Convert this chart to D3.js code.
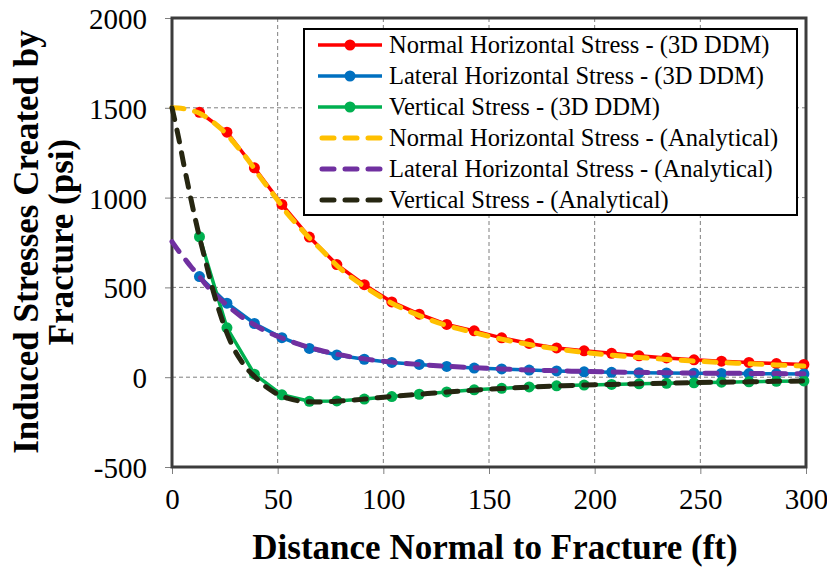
<!DOCTYPE html>
<html>
<head>
<meta charset="utf-8">
<script src="https://cdn.jsdelivr.net/npm/d3@7"></script>
<style>
  body { margin: 0; background: #fff; }
  svg text { font-family: "Liberation Serif", "DejaVu Serif", Times, serif; fill: #000; }
</style>
</head>
<body>
<div id="theChart"></div>
<script>
// distances (ft) of the 3D DDM points
var distDDM = [13, 26, 39, 52, 65, 78, 91, 104, 117, 130, 143, 156, 169, 182, 195, 208, 221, 234, 247, 260, 273, 286, 299];
var normalDDM = [1475, 1364, 1166, 962, 780, 627, 515, 419, 351, 294, 258, 219, 188, 163, 147, 133, 119, 107, 97, 89, 82, 76, 71];
var lateralDDM = [560, 412, 299, 220, 160, 124, 100, 82, 71, 60, 51, 46, 40, 35, 30, 27, 25, 24, 22, 21, 20, 19, 18];
var verticalDDM = [782, 275, 17, -98, -134, -132, -122, -108, -95, -82, -70, -62, -54, -48, -44, -40, -37, -34, -31, -28, -26, -23, -21];

// analytical curves
var distAnalytical = [0, 3, 6, 9, 13, 16, 19.5, 23, 26, 29, 32.5, 36, 39, 42, 45.5, 50, 55, 60, 65, 70, 78, 91, 104, 117, 130, 143, 156, 169, 182, 195, 208, 221, 234, 247, 260, 273, 286, 299];
var normalAnalytical = [1500, 1499, 1494, 1486, 1470, 1450, 1420, 1385, 1352, 1310, 1260, 1210, 1160, 1110, 1055, 985, 905, 840, 775, 718, 622, 505, 412, 343, 288, 248, 212, 182, 157, 138, 123, 110, 99, 90, 82, 75, 68, 62];
var lateralAnalytical = [755, 705, 660, 615, 560, 515, 470, 432, 402, 372, 340, 313, 292, 271, 250, 228, 205, 184, 166, 150, 128, 102, 84, 71, 61, 53, 46, 40, 36, 32, 29, 27, 25, 23, 22, 21, 20, 19];
var verticalAnalytical = [1500, 1340, 1160, 990, 780, 640, 480, 345, 245, 165, 95, 40, 5, -30, -62, -95, -118, -132, -137, -138, -134, -122, -107, -95, -83, -72, -63, -55, -49, -44, -40, -36, -33, -30, -28, -26, -23, -21];

var xTicks = [0, 50, 100, 150, 200, 250, 300];
var yTicks = [-500, 0, 500, 1000, 1500, 2000];

var seriesNames = [
  "Normal Horizontal Stress - (3D DDM)",
  "Lateral Horizontal Stress - (3D DDM)",
  "Vertical Stress - (3D DDM)",
  "Normal Horizontal Stress - (Analytical)",
  "Lateral Horizontal Stress - (Analytical)",
  "Vertical Stress - (Analytical)"
];

var serif = '"Liberation Serif", "DejaVu Serif", Times, serif';

function drawChart(){
  var W = 827, H = 569;
  var left = 172, right = 806, top = 18, bottom = 467;
  var colors = ["#ff0000", "#0070c0", "#00b050", "#ffc000", "#7030a0", "#262611"];

  var svg = d3.select("#theChart")
    .append("svg")
    .attr("width", W)
    .attr("height", H)
    .style("font-family", serif);

  var x = d3.scaleLinear().domain([0, 300]).range([left, right]);
  var y = d3.scaleLinear().domain([-500, 2000]).range([bottom, top]);

  //grid lines
  svg.append("g").selectAll("line")
    .data(xTicks.slice(1, -1))
    .enter().append("line")
    .attr("x1", function(d){ return x(d); })
    .attr("x2", function(d){ return x(d); })
    .attr("y1", top).attr("y2", bottom)
    .attr("stroke", "#7f7f7f").attr("stroke-width", 1).attr("stroke-dasharray", "4,3");
  svg.append("g").selectAll("line")
    .data(yTicks.slice(1, -1))
    .enter().append("line")
    .attr("y1", function(d){ return y(d); })
    .attr("y2", function(d){ return y(d); })
    .attr("x1", left).attr("x2", right)
    .attr("stroke", "#7f7f7f").attr("stroke-width", 1).attr("stroke-dasharray", "4,3");

  //axes
  var xAxis = svg.append("g")
    .attr("transform", "translate(0," + bottom + ")")
    .call(d3.axisBottom(x).tickValues(xTicks).tickFormat(function(d){ return String(d); }).tickSize(7).tickPadding(14));
  var yAxis = svg.append("g")
    .attr("transform", "translate(" + left + ",0)")
    .call(d3.axisLeft(y).tickValues(yTicks).tickFormat(function(d){ return String(d); }).tickSize(7).tickPadding(18));
  [xAxis, yAxis].forEach(function(a){
    a.attr("font-family", serif);
    a.select(".domain").remove();
    a.selectAll(".tick line").attr("stroke", "#7f7f7f");
    a.selectAll(".tick text")
      .style("font-family", serif)
      .style("font-size", "29px")
      .attr("fill", "#000");
  });
  yAxis.selectAll(".tick text").attr("dy", "0.36em");

  //plot frame
  svg.append("rect")
    .attr("x", left).attr("y", top)
    .attr("width", right - left).attr("height", bottom - top)
    .attr("fill", "none").attr("stroke", "#3c3c3c").attr("stroke-width", 3);

  //3D DDM series
  var lineDDM = d3.line()
    .x(function(d, i){ return x(distDDM[i]); })
    .y(function(d){ return y(d); });
  [normalDDM, lateralDDM, verticalDDM].forEach(function(vals, k){
    var g = svg.append("g");
    g.append("path")
      .attr("d", lineDDM(vals))
      .attr("fill", "none")
      .attr("stroke", colors[k])
      .attr("stroke-width", 3.5);
    g.selectAll("circle")
      .data(vals)
      .enter().append("circle")
      .attr("cx", function(d, i){ return x(distDDM[i]); })
      .attr("cy", function(d){ return y(d); })
      .attr("r", 5.5)
      .attr("fill", colors[k]);
  });

  //analytical series
  var lineAn = d3.line()
    .x(function(d, i){ return x(distAnalytical[i]); })
    .y(function(d){ return y(d); })
    .curve(d3.curveMonotoneX);
  [normalAnalytical, lateralAnalytical, verticalAnalytical].forEach(function(vals, k){
    svg.append("path")
      .attr("d", lineAn(vals))
      .attr("fill", "none")
      .attr("stroke", colors[k + 3])
      .attr("stroke-width", 5)
      .attr("stroke-linecap", "round")
      .attr("stroke-dasharray", "12,11");
  });

  //legend
  var lg = svg.append("g");
  lg.append("rect")
    .attr("x", 304).attr("y", 29)
    .attr("width", 493).attr("height", 186)
    .attr("fill", "#fff").attr("stroke", "#000").attr("stroke-width", 2);
  var rows = lg.selectAll("g.row")
    .data(seriesNames)
    .enter().append("g")
    .attr("class", "row")
    .attr("transform", function(d, i){ return "translate(0," + (45 + i * 31) + ")"; });
  rows.append("line")
    .attr("x1", function(d, i){ return i < 3 ? 318 : 322; })
    .attr("x2", function(d, i){ return i < 3 ? 382 : 380; })
    .attr("y1", 0).attr("y2", 0)
    .attr("stroke", function(d, i){ return colors[i]; })
    .attr("stroke-width", function(d, i){ return i < 3 ? 3.5 : 5; })
    .attr("stroke-linecap", function(d, i){ return i < 3 ? "butt" : "round"; })
    .attr("stroke-dasharray", function(d, i){ return i < 3 ? null : "12,11"; });
  rows.filter(function(d, i){ return i < 3; })
    .append("circle")
    .attr("cx", 350).attr("cy", 0).attr("r", 5.5)
    .attr("fill", function(d, i){ return colors[i]; });
  rows.append("text")
    .attr("x", 389).attr("y", 0).attr("dy", "0.33em")
    .style("font-family", serif)
    .style("font-size", "24.5px")
    .text(function(d){ return d; });

  //axis titles
  svg.append("text")
    .attr("x", (left + right) / 2 + 6).attr("y", 559)
    .attr("text-anchor", "middle")
    .style("font-family", serif)
    .style("font-size", "35px").style("font-weight", "bold")
    .text("Distance Normal to Fracture (ft)");
  var yt = svg.append("text")
    .attr("transform", "translate(0,242) rotate(-90)")
    .attr("text-anchor", "middle")
    .style("font-family", serif)
    .style("font-size", "35px").style("font-weight", "bold");
  yt.append("tspan").attr("x", 0).attr("y", 38).text("Induced Stresses Created by");
  yt.append("tspan").attr("x", 0).attr("y", 73).text("Fracture (psi)");
}

drawChart();
</script>
</body>
</html>
